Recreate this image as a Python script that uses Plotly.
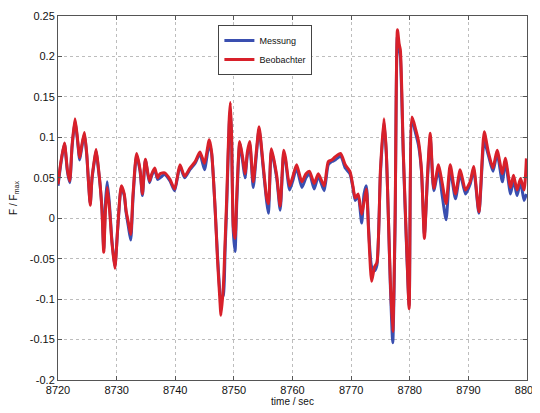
import plotly.graph_objects as go

time = [8720.0, 8720.5, 8721.1, 8721.6, 8722.0, 8722.4, 8722.9, 8723.3, 8723.7, 8724.0,
        8724.5, 8724.9, 8725.2, 8725.5, 8725.8, 8726.2, 8726.5, 8726.9, 8727.2, 8727.5,
        8727.8, 8728.1, 8728.4, 8728.8, 8729.2, 8729.7, 8730.2, 8730.8, 8731.3, 8731.6,
        8732.0, 8732.4, 8732.8, 8733.4, 8734.0, 8734.4, 8734.9, 8735.6, 8736.0, 8736.5,
        8737.0, 8737.4, 8738.2, 8739.1, 8739.9, 8740.8, 8741.6, 8742.5, 8743.4, 8744.2,
        8744.6, 8745.0, 8745.8, 8746.2, 8746.8, 8747.2, 8747.6, 8747.8, 8748.2, 8748.5,
        8748.8, 8749.2, 8749.4, 8749.6, 8749.9, 8750.2, 8750.5, 8751.0, 8751.5, 8751.9,
        8752.3, 8752.7, 8753.3, 8753.8, 8754.3, 8755.0, 8755.6, 8755.9, 8756.4, 8757.3,
        8757.9, 8758.5, 8758.8, 8759.5, 8760.0, 8760.7, 8761.6, 8762.3, 8762.9, 8763.7,
        8764.4, 8765.4, 8766.1, 8766.7, 8767.3, 8768.2, 8769.0, 8769.8, 8770.3, 8770.7,
        8771.2, 8771.8, 8772.2, 8772.6, 8773.0, 8773.5, 8774.0, 8774.4, 8775.0, 8775.6,
        8776.0, 8776.4, 8776.7, 8777.1, 8777.5, 8777.9, 8778.2, 8778.4, 8778.9, 8779.5,
        8779.9, 8780.4, 8781.0, 8781.5, 8782.0, 8782.5, 8783.0, 8783.5, 8784.1, 8784.9,
        8785.5, 8786.2, 8786.9, 8787.8, 8788.6, 8789.5, 8790.3, 8790.9, 8791.8, 8792.7,
        8793.4, 8794.2, 8794.9, 8795.8, 8796.3, 8797.2, 8797.7, 8798.3, 8798.9, 8799.5,
        8799.9]

beobachter = [0.042, 0.070, 0.093, 0.060, 0.046, 0.090, 0.123, 0.100, 0.075, 0.088,
              0.106, 0.080, 0.045, 0.016, 0.050, 0.072, 0.085, 0.062, 0.040, 0.010,
              -0.042, 0.010, 0.038, 0.010, -0.030, -0.062, -0.010, 0.040, 0.030, 0.010,
              -0.005, -0.020, 0.030, 0.080, 0.060, 0.030, 0.073, 0.046, 0.055, 0.062,
              0.050, 0.055, 0.056, 0.048, 0.036, 0.066, 0.052, 0.062, 0.070, 0.082,
              0.075, 0.068, 0.097, 0.082, 0.012, -0.050, -0.100, -0.120, -0.085, -0.030,
              0.030, 0.122, 0.143, 0.105, -0.010, -0.025, 0.030, 0.095, 0.075, 0.055,
              0.082, 0.095, 0.045, 0.080, 0.113, 0.066, 0.025, 0.018, 0.086, 0.053,
              0.015, 0.084, 0.075, 0.040, 0.050, 0.066, 0.045, 0.055, 0.058, 0.043,
              0.055, 0.040, 0.070, 0.072, 0.076, 0.080, 0.066, 0.058, 0.040, 0.025,
              0.030, 0.005, 0.020, 0.036, -0.020, -0.078, -0.060, -0.055, 0.060, 0.123,
              0.082, -0.010, -0.080, -0.140, 0.000, 0.233, 0.215, 0.208, 0.082, -0.041,
              -0.112, 0.125, 0.110, 0.095, 0.060, -0.025, 0.050, 0.105, 0.037, 0.066,
              0.045, 0.018, 0.066, 0.030, 0.060, 0.035, 0.045, 0.064, 0.008, 0.107,
              0.082, 0.062, 0.084, 0.055, 0.074, 0.038, 0.053, 0.035, 0.049, 0.035,
              0.074]

messung = [0.040, 0.068, 0.092, 0.058, 0.044, 0.088, 0.120, 0.098, 0.072, 0.085,
           0.104, 0.078, 0.045, 0.018, 0.048, 0.070, 0.083, 0.060, 0.040, 0.012,
           -0.038, 0.020, 0.045, 0.015, -0.028, -0.060, -0.012, 0.038, 0.028, 0.008,
           -0.010, -0.027, 0.025, 0.078, 0.058, 0.028, 0.072, 0.044, 0.053, 0.060,
           0.048, 0.050, 0.054, 0.046, 0.034, 0.064, 0.050, 0.060, 0.068, 0.080,
           0.070, 0.060, 0.092, 0.080, 0.012, -0.045, -0.090, -0.100, -0.095, -0.040,
           0.020, 0.115, 0.135, 0.100, -0.016, -0.041, 0.020, 0.092, 0.070, 0.050,
           0.078, 0.092, 0.038, 0.075, 0.110, 0.062, 0.020, 0.006, 0.083, 0.050,
           0.010, 0.080, 0.072, 0.035, 0.045, 0.062, 0.038, 0.050, 0.055, 0.036,
           0.052, 0.034, 0.066, 0.070, 0.072, 0.077, 0.062, 0.055, 0.038, 0.022,
           0.028, -0.006, 0.030, 0.040, -0.015, -0.060, -0.065, -0.058, 0.055, 0.118,
           0.080, -0.010, -0.085, -0.154, -0.010, 0.225, 0.210, 0.200, 0.078, -0.045,
           -0.108, 0.120, 0.105, 0.090, 0.058, -0.020, 0.045, 0.100, 0.034, 0.060,
           0.030, -0.002, 0.060, 0.024, 0.055, 0.030, 0.042, 0.060, 0.006, 0.095,
           0.078, 0.058, 0.080, 0.045, 0.070, 0.030, 0.048, 0.028, 0.045, 0.022,
           0.030]

x_ticks = [8720, 8730, 8740, 8750, 8760, 8770, 8780, 8790, 8800]
y_ticks = [-0.2, -0.15, -0.1, -0.05, 0, 0.05, 0.1, 0.15, 0.2, 0.25]
y_tick_labels = ["-0.2", "-0.15", "-0.1", "-0.05", "0", "0.05", "0.1", "0.15", "0.2", "0.25"]

FONT = "Liberation Sans, Arial"

fig = go.Figure()
fig.add_trace(go.Scatter(x=time, y=messung, mode="lines", name="Messung",
                         line=dict(color="#3a4fb0", width=3, shape="spline", smoothing=0.6)))
fig.add_trace(go.Scatter(x=time, y=beobachter, mode="lines", name="Beobachter",
                         line=dict(color="#d8202a", width=3, shape="spline", smoothing=0.6)))

axis_common = dict(showline=True, linecolor="#555555", linewidth=1, mirror="ticks",
                   ticks="inside", ticklen=4, tickcolor="#555555",
                   showgrid=True, gridcolor="#bdbdbd", griddash="dot", gridwidth=1,
                   zeroline=False, automargin=False,
                   tickfont=dict(family=FONT, size=11, color="#111111"))

fig.update_xaxes(range=[8720, 8800], tickvals=x_ticks, ticktext=[str(v) for v in x_ticks],
                 title=dict(text="time / sec", font=dict(family=FONT, size=10, color="#111111"), standoff=0),
                 **axis_common)
fig.update_yaxes(range=[-0.2, 0.25], tickvals=y_ticks, ticktext=y_tick_labels,
                 title=dict(text="F / F<sub>max</sub>", font=dict(family=FONT, size=10, color="#111111"), standoff=11),
                 **axis_common)

# page body has an 8px default margin, so the figure is sized to fit the 540x413 window
fig.update_layout(
    width=532, height=405,
    margin=dict(l=50, r=13, t=8, b=33),
    plot_bgcolor="white", paper_bgcolor="white",
    showlegend=True,
    legend=dict(x=0.342, y=0.975, xanchor="left", yanchor="top",
                bgcolor="white", bordercolor="#444444", borderwidth=1,
                font=dict(family=FONT, size=9, color="#111111"),
                tracegroupgap=0, itemwidth=30),
)

fig.write_html("out.html")
